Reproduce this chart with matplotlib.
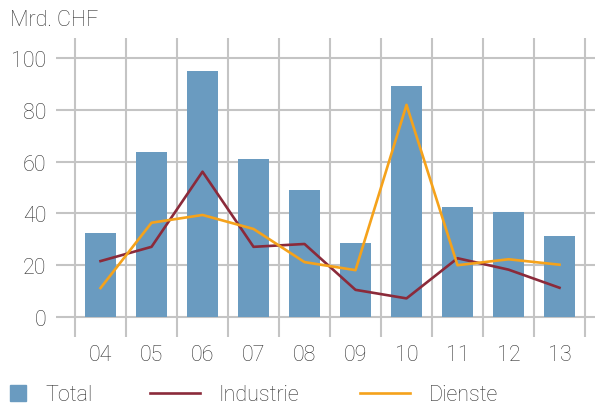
import numpy as np
import matplotlib
matplotlib.use("Agg")
import matplotlib.pyplot as plt
from matplotlib.patches import Patch
from matplotlib.lines import Line2D

years = ["04", "05", "06", "07", "08", "09", "10", "11", "12", "13"]
total = [32.4, 63.7, 95.0, 60.9, 49.0, 28.6, 89.2, 42.5, 40.5, 31.3]
industrie = [21.6, 27.1, 56.1, 27.1, 28.2, 10.5, 7.2, 22.7, 18.3, 11.3]
dienste = [11.2, 36.4, 39.4, 34.0, 21.2, 18.1, 81.9, 20.0, 22.3, 20.2]

c_total = "#6a9bc0"
c_ind = "#8b2a3a"
c_dien = "#f5a21b"
c_grid = "#c4c4c4"
c_text = "#333333"
fs = 15.5

plt.rcParams["font.family"] = ["Roboto", "DejaVu Sans"]
plt.rcParams["font.weight"] = "light"
plt.rcParams["font.size"] = fs

fig = plt.figure(figsize=(5.95, 4.06), dpi=100)
ax = fig.add_axes([56 / 595, 68 / 406, 539 / 595, 299 / 406])

x = np.arange(len(years))

for v in range(0, 101, 20):
    ax.axhline(v, color=c_grid, lw=1.5, zorder=0)
for b in np.arange(-0.5, len(years), 1.0):
    ax.axvline(b, color=c_grid, lw=1.5, zorder=0)

ax.bar(x, total, width=0.61, color=c_total, zorder=2)
ax.plot(x, industrie, color=c_ind, lw=1.9, zorder=3)
ax.plot(x, dienste, color=c_dien, lw=1.9, zorder=3)

ax.set_xlim(-0.873, 9.696)
ax.set_ylim(-7.7, 107.7)
ax.set_xticks(x)
ax.set_xticklabels(years)
ax.set_yticks(range(0, 101, 20))
ax.tick_params(length=0, colors=c_text, labelsize=fs)
ax.tick_params(axis="y", pad=7)
ax.tick_params(axis="x", pad=5)
for s in ax.spines.values():
    s.set_visible(False)

fig.text(10 / 595, 1 - 20 / 406, "Mrd. CHF", color=c_text, fontsize=fs, va="center", ha="left")

# legend entries placed one by one along the bottom
items = [
    (Patch(color=c_total), "Total", 10, 0.75, 0.75),
    (Line2D([], [], color=c_ind, lw=1.9), "Industrie", 150, 2.3, 0.7),
    (Line2D([], [], color=c_dien, lw=1.9), "Dienste", 360, 2.3, 0.7),
]
for h, lab, px, hl, hh in items:
    leg = fig.legend(handles=[h], labels=[lab], loc="center left",
                     bbox_to_anchor=(px / 595, 1 - 396 / 406), frameon=False,
                     borderpad=0, borderaxespad=0, handlelength=hl, handleheight=hh,
                     handletextpad=0.9, fontsize=fs)
    for t in leg.get_texts():
        t.set_color(c_text)

fig.savefig("out.png", dpi=100)
